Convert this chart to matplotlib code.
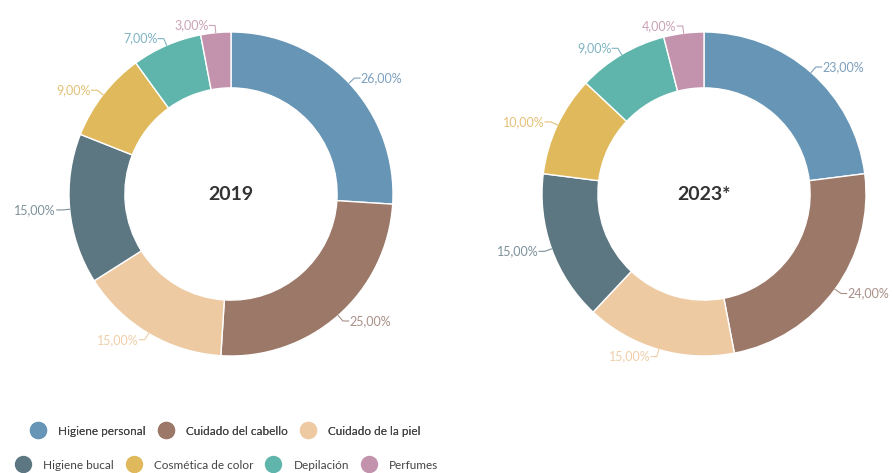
import numpy as np
import matplotlib
matplotlib.use("Agg")
import matplotlib.pyplot as plt
from matplotlib.lines import Line2D

plt.rcParams['font.family'] = ['Lato', 'DejaVu Sans']

categories = ['Higiene personal', 'Cuidado del cabello', 'Cuidado de la piel',
              'Higiene bucal', 'Cosmética de color', 'Depilación', 'Perfumes']
colors = ['#6795b5', '#9c7868', '#eecaa3', '#5c7782', '#dfb95b', '#5fb5ab', '#c393ad']
label_colors = ['#7c9fbd', '#a89088', '#efcfa8', '#7d919a', '#e3c178', '#7fb3c2', '#c9a3b6']

share_2019 = [26, 25, 15, 15, 9, 7, 3]
share_2023 = [23, 24, 15, 15, 10, 9, 4]
titles = ['2019', '2023*']
centers = [(231, 194), (704, 194)]   # pixel centres of the donuts

W, H = 893, 473
R = 162   # outer radius in px
S = 215   # half axes size in px

fig = plt.figure(figsize=(W / 100, H / 100), dpi=100)


def donut(values, title, center):
    cx, cy = center
    ax = fig.add_axes([(cx - S) / W, 1 - (cy + S) / H, 2 * S / W, 2 * S / H])
    lim = S / R
    ax.set_aspect('equal')
    ax.axis('off')
    wedges, _ = ax.pie(values, colors=colors, startangle=90, counterclock=False,
                       radius=1, wedgeprops=dict(width=0.345, edgecolor='white', linewidth=1))
    ax.set_xlim(-lim, lim)
    ax.set_ylim(-lim, lim)
    ax.text(0, 0, title, ha='center', va='center', fontsize=14, fontweight='bold', color='#333333')
    for w, v, lc in zip(wedges, values, label_colors):
        ang = np.deg2rad((w.theta1 + w.theta2) / 2)
        x0, y0 = np.cos(ang), np.sin(ang)
        x1, y1 = 1.045 * x0, 1.045 * y0
        side = 1 if x0 >= 0 else -1
        x2 = x1 + side * 0.035
        ax.plot([x0, x1, x2], [y0, y1, y1], color=lc, lw=0.8)
        ax.text(x2 + side * 0.005, y1, f'{v},00%', ha='left' if side > 0 else 'right',
                va='center', fontsize=9, color=lc)


for vals, t, c in zip([share_2019, share_2023], titles, centers):
    donut(vals, t, c)

handles = [Line2D([], [], marker='o', linestyle='', markersize=11.5,
                  markerfacecolor=c, markeredgecolor=c) for c in colors]
kw = dict(loc='center', frameon=False, fontsize=8.5, handletextpad=1.1, columnspacing=1.1,
          handlelength=1.2, labelcolor='#444444')
leg1 = fig.legend(handles[:3], categories[:3], bbox_to_anchor=(226 / W, 1 - 431 / H), ncol=3, **kw)
leg2 = fig.legend(handles[3:], categories[3:], bbox_to_anchor=(227 / W, 1 - 465 / H), ncol=4, **kw)
fig.add_artist(leg1)

fig.savefig('out.png', dpi=100)
